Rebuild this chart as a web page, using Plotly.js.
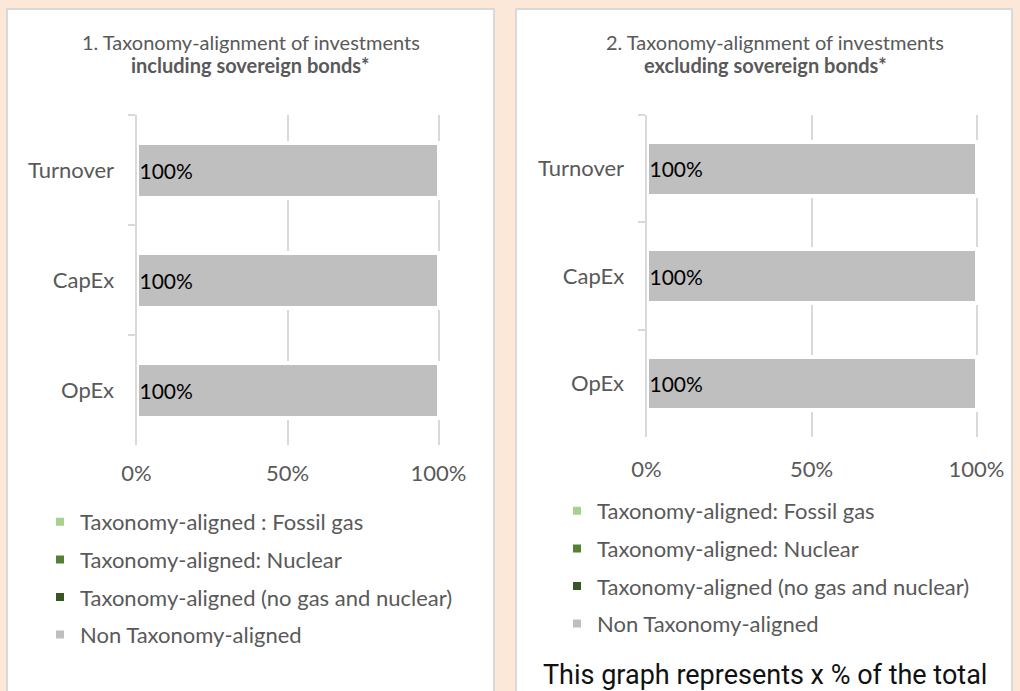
<!DOCTYPE html>
<html>
<head>
<meta charset="utf-8">
<script src="https://cdn.plot.ly/plotly-3.0.1.min.js"></script>
<style>
  html, body { margin: 0; padding: 0; background: #FBE8D8; }
  #chart { width: 1020px; height: 691px; }
</style>
</head>
<body>
<div id="chart"></div>
<script>
// ---- data ----
const categories = ["Turnover", "CapEx", "OpEx"];
const seriesNames1 = ["Taxonomy-aligned : Fossil gas", "Taxonomy-aligned: Nuclear", "Taxonomy-aligned (no gas and nuclear)", "Non Taxonomy-aligned"];
const seriesNames2 = ["Taxonomy-aligned: Fossil gas", "Taxonomy-aligned: Nuclear", "Taxonomy-aligned (no gas and nuclear)", "Non Taxonomy-aligned"];
const incl_fossilGas = [0, 0, 0];
const incl_nuclear = [0, 0, 0];
const incl_aligned = [0, 0, 0];
const incl_nonAligned = [100, 100, 100];
const excl_fossilGas = [0, 0, 0];
const excl_nuclear = [0, 0, 0];
const excl_aligned = [0, 0, 0];
const excl_nonAligned = [100, 100, 100];
const xTickVals = [0, 50, 100];
const xTickText = ["0%", "50%", "100%"];
const title1a = "1. Taxonomy-alignment of investments";
const title1b = "including sovereign bonds*";
const title2a = "2. Taxonomy-alignment of investments";
const title2b = "excluding sovereign bonds*";
const footnote = "This graph represents x % of the total";

// ---- styling ----
const W = 1020, H = 691;
const X = p => p / W;
const Y = p => 1 - p / H;
const colors = ["#A9D18E", "#548235", "#375623", "#BFBFBF"];
const FONT = "Lato, 'Open Sans', sans-serif";
const GREY_TXT = "#595959";
const LINE = "#D9D9D9";

function makeTraces(seriesVals, names, xa, ya, legend) {
  return seriesVals.map((vals, i) => {
    const isNon = i === 3;
    return {
      type: "bar",
      orientation: "h",
      name: names[i],
      y: categories,
      x: vals,
      xaxis: xa,
      yaxis: ya,
      legend: legend,
      legendgroup: legend + "_" + i,
      marker: { color: colors[i], line: { color: "#FFFFFF", width: 4 } },
      text: isNon ? vals.map(v => v + "%") : null,
      textposition: isNon ? "inside" : "none",
      insidetextanchor: "start",
      textangle: 0,
      constraintext: "none",
      textfont: { family: FONT, size: 21, color: "#000000" },
      hoverinfo: "name+x"
    };
  });
}

const data = [
  ...makeTraces([incl_fossilGas, incl_nuclear, incl_aligned, incl_nonAligned], seriesNames1, "x", "y", "legend"),
  ...makeTraces([excl_fossilGas, excl_nuclear, excl_aligned, excl_nonAligned], seriesNames2, "x2", "y2", "legend2")
];

// axis range runs slightly past 100% so the 100% gridline is drawn inside the plot area
const X_MAX = 101;
function xAxis(p0, p100, anchor, standoff) {
  const perUnit = (p100 - p0) / 100;
  return {
    domain: [X(p0), X(p0 + X_MAX * perUnit)],
    anchor: anchor,
    range: [0, X_MAX],
    tickmode: "array",
    tickvals: xTickVals,
    ticktext: xTickText,
    showgrid: true,
    gridcolor: LINE,
    gridwidth: 2,
    zeroline: false,
    showline: false,
    ticks: "",
    ticklabelstandoff: standoff,
    tickfont: { family: FONT, size: 22, color: GREY_TXT },
    fixedrange: true
  };
}
function yAxis(t, b, anchor) {
  return {
    domain: [Y(b), Y(t)],
    anchor: anchor,
    type: "category",
    autorange: "reversed",
    showline: true,
    linecolor: LINE,
    linewidth: 2,
    ticks: "outside",
    tickson: "boundaries",
    ticklen: 7,
    tickwidth: 2,
    tickcolor: LINE,
    showgrid: false,
    ticklabelstandoff: 16,
    tickfont: { family: FONT, size: 22, color: GREY_TXT },
    fixedrange: true
  };
}

const legendBase = {
  orientation: "v",
  traceorder: "grouped",
  tracegroupgap: 6,
  bgcolor: "rgba(0,0,0,0)",
  borderwidth: 0,
  xanchor: "left",
  yanchor: "top",
  font: { family: FONT, size: 22, color: GREY_TXT }
};

const layout = {
  width: W,
  height: H,
  margin: { l: 0, r: 0, t: 0, b: 0, pad: 0 },
  paper_bgcolor: "#FBE8D8",
  plot_bgcolor: "rgba(0,0,0,0)",
  barmode: "stack",
  bargap: 0.5,
  showlegend: true,
  xaxis: xAxis(136.5, 438.5, "y", 13),
  yaxis: yAxis(115, 445, "x"),
  xaxis2: xAxis(646.5, 976.5, "y2", 17),
  yaxis2: yAxis(115, 437, "x2"),
  legend: Object.assign({}, legendBase, { x: X(40), y: Y(501) }),
  legend2: Object.assign({}, legendBase, { x: X(557), y: Y(490) }),
  shapes: [
    { type: "rect", xref: "paper", yref: "paper", layer: "below",
      x0: X(7), x1: X(494), y0: Y(9), y1: Y(700),
      fillcolor: "#FFFFFF", line: { color: LINE, width: 2 } },
    { type: "rect", xref: "paper", yref: "paper", layer: "below",
      x0: X(516), x1: X(1012), y0: Y(9), y1: Y(700),
      fillcolor: "#FFFFFF", line: { color: LINE, width: 2 } }
  ],
  annotations: [
    { xref: "paper", yref: "paper", x: X(250.5), y: Y(42), xanchor: "center", yanchor: "middle",
      text: title1a, showarrow: false, font: { family: FONT, size: 20, color: GREY_TXT } },
    { xref: "paper", yref: "paper", x: X(250.5), y: Y(65), xanchor: "center", yanchor: "middle",
      text: "<b>" + title1b + "</b>", showarrow: false, font: { family: FONT, size: 20, color: GREY_TXT } },
    { xref: "paper", yref: "paper", x: X(775), y: Y(42), xanchor: "center", yanchor: "middle",
      text: title2a, showarrow: false, font: { family: FONT, size: 20, color: GREY_TXT } },
    { xref: "paper", yref: "paper", x: X(765.5), y: Y(65), xanchor: "center", yanchor: "middle",
      text: "<b>" + title2b + "</b>", showarrow: false, font: { family: FONT, size: 20, color: GREY_TXT } },
    { xref: "paper", yref: "paper", x: X(541), y: Y(675), xanchor: "left", yanchor: "middle",
      text: footnote, showarrow: false, font: { family: "Roboto, sans-serif", size: 27, color: "#111111" } }
  ]
};

Plotly.newPlot("chart", data, layout, { displayModeBar: false });
</script>
</body>
</html>
